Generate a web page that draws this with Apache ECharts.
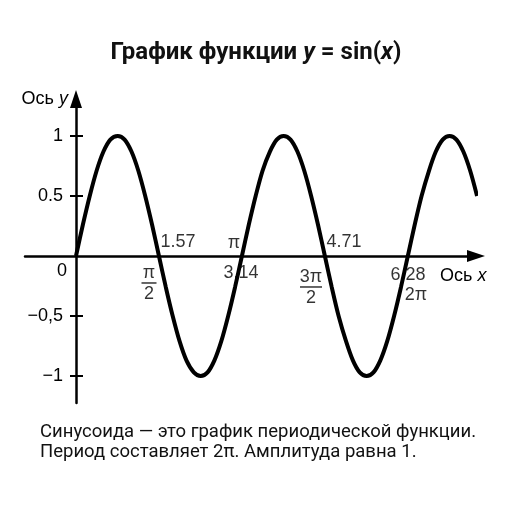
<!DOCTYPE html>
<html><head><meta charset="utf-8">
<script src="https://cdn.jsdelivr.net/npm/echarts@6/dist/echarts.min.js"></script>
<style>html,body{margin:0;padding:0;background:#fff}#c{width:512px;height:512px}</style>
</head><body><div id="c"></div>
<script>
// Curve samples (x in radians, y value)
const curveX = [0, 0.13, 0.26, 0.39, 0.52, 0.65, 0.79, 0.92, 1.05, 1.18, 1.31, 1.44, 1.57, 1.70, 1.83, 1.96, 2.09, 2.23, 2.36, 2.49, 2.62, 2.75, 2.88, 3.01, 3.14, 3.27, 3.40, 3.53, 3.67, 3.80, 3.93, 4.06, 4.19, 4.32, 4.45, 4.58, 4.71, 4.84, 4.97, 5.11, 5.24, 5.37, 5.50, 5.63, 5.76, 5.89, 6.02, 6.15, 6.28, 6.41, 6.54, 6.68, 6.81, 6.94, 7.07, 7.20, 7.33, 7.46, 7.59];
const curveY = [0, 0.26, 0.5, 0.71, 0.87, 0.97, 1, 0.97, 0.87, 0.71, 0.5, 0.26, 0, -0.26, -0.5, -0.71, -0.87, -0.97, -1, -0.97, -0.87, -0.71, -0.5, -0.26, 0, 0.26, 0.5, 0.71, 0.87, 0.97, 1, 0.97, 0.87, 0.71, 0.5, 0.26, 0, -0.26, -0.5, -0.71, -0.87, -0.97, -1, -0.97, -0.87, -0.71, -0.5, -0.26, 0, 0.26, 0.5, 0.71, 0.87, 0.97, 1, 0.97, 0.87, 0.71, 0.5];

const yTickValues = [-1, -0.5, 0, 0.5, 1];
const yTickLabels = ['−1', '−0,5', '0', '0.5', '1'];
const yTickMarks = [-1, -0.5, 0.5, 1];

const xTickValues = [1.5708, 3.1416, 4.7124, 6.2832];
const xDecimalLabels = ['1.57', '3.14', '4.71', '6.28'];
const xPiNumerators = ['π', 'π', '3π', '2π'];
const xPiDenominators = ['2', '', '2', ''];

const titleText = 'График функции {i|y} = sin({i|x})';
const captionLines = ['Синусоида — это график периодической функции.', 'Период составляет 2π. Амплитуда равна 1.'];

const AXF = 'Liberation Sans, Arial, sans-serif';
const FS = 18;
const chart = echarts.init(document.getElementById('c'), null, {renderer: 'canvas'});

// label placement (offsets from the zero crossing, in px)
const decOffsets = [[19, -14], [-1, 17], [19, -14], [0, 19]];
const piOffsets = [[-10, 28], [-8, -13], [-14, 32], [8, 39]];

const labelData = [];
xTickValues.forEach((v, i) => {
  labelData.push({value: [v, 0], label: {show: true, position: 'inside', offset: decOffsets[i], formatter: xDecimalLabels[i]}});
  const frac = xPiDenominators[i] !== '';
  labelData.push({value: [v, 0], label: {show: true, position: 'inside', offset: piOffsets[i],
    formatter: frac ? '{n|' + xPiNumerators[i] + '}\n{bar' + (xPiNumerators[i].length > 1 ? '2' : '1') + '|}\n{d|' + xPiDenominators[i] + '}' : '{s|' + xPiNumerators[i] + '}'}});
});

const txt = {fontFamily: AXF, fontSize: FS, color: '#000'};
const option = {
  animation: false,
  title: [
    {text: titleText, left: 'center', top: 36, textStyle: {fontFamily: 'Roboto', fontWeight: 'bold', fontSize: 24, color: '#111',
      rich: {i: {fontFamily: 'Roboto', fontWeight: 'bold', fontStyle: 'italic', fontSize: 24, color: '#111'}}}},
    {text: captionLines.join('\n'), left: 35, top: 417, textStyle: {fontFamily: 'Roboto', fontWeight: 'normal', fontSize: 18.5, lineHeight: 20, color: '#111'}}
  ],
  grid: {left: 25, right: 36, top: 99, bottom: 109, outerBoundsMode: 'none', containLabel: false},
  xAxis: {
    type: 'value', min: -0.965, max: 7.57,
    axisLine: {onZero: true, lineStyle: {color: '#000', width: 2.5}, symbol: ['none', 'triangle'], symbolSize: [12, 18]},
    axisTick: {show: false}, axisLabel: {show: false}, splitLine: {show: false},
    name: '{n|Ось }{i|x}', nameLocation: 'end', nameGap: -36,
    nameTextStyle: {align: 'left', verticalAlign: 'middle', padding: [40, 0, 0, 0],
      rich: {n: txt, i: Object.assign({}, txt, {fontStyle: 'italic'})}}
  },
  yAxis: [{
    type: 'value', min: -1.225, max: 1.308, position: 'left', offset: -51,
    axisLine: {onZero: false, lineStyle: {color: '#000', width: 2.5}, symbol: ['none', 'triangle'], symbolSize: [12, 18]},
    axisTick: {show: true, customValues: yTickMarks, length: 6, inside: false, lineStyle: {color: '#000', width: 2}},
    axisLabel: {customValues: yTickValues, margin: 9, fontFamily: AXF, fontSize: FS, color: '#000',
      formatter: (v) => {
        const i = yTickValues.indexOf(v);
        const t = i >= 0 ? yTickLabels[i] : '';
        return v === 0 ? '{z|' + t + '}' : '{v|' + t + '}';
      },
      rich: {v: Object.assign({}, txt, {padding: [0, 4, 0, 0]}),
             z: Object.assign({}, txt, {padding: [30, 0, 0, 0]})}},
    splitLine: {show: false},
    name: '{n|Ось }{i|y}', nameLocation: 'end', nameGap: -1,
    nameTextStyle: {align: 'right', verticalAlign: 'middle', padding: [0, 8, 2, 0],
      rich: {n: txt, i: Object.assign({}, txt, {fontStyle: 'italic'})}}
  }, {
    type: 'value', min: -1.225, max: 1.308, position: 'left', offset: -51,
    axisLine: {show: true, onZero: false, lineStyle: {color: 'rgba(0,0,0,0)', width: 0}},
    axisTick: {show: true, customValues: yTickMarks, length: 7, inside: true, lineStyle: {color: '#000', width: 2}},
    axisLabel: {show: false}, splitLine: {show: false}
  }],
  series: [{
    type: 'line', data: curveX.map((x, i) => [x, curveY[i]]), smooth: 0.3, showSymbol: false, clip: false,
    lineStyle: {color: '#000', width: 4}, z: 3
  }, {
    type: 'scatter', data: labelData, symbolSize: 1, itemStyle: {color: 'rgba(0,0,0,0)'}, z: 5, silent: true,
    label: {fontFamily: AXF, fontSize: FS, color: '#000', align: 'center', verticalAlign: 'middle',
      rich: {
        n: Object.assign({}, txt, {lineHeight: 15, align: 'center'}),
        d: Object.assign({}, txt, {lineHeight: 17, align: 'center'}),
        s: txt,
        bar1: {width: 15, height: 1.5, lineHeight: 5, backgroundColor: '#000', align: 'center'},
        bar2: {width: 22, height: 1.5, lineHeight: 5, backgroundColor: '#000', align: 'center'}
      }}
  }]
};
chart.setOption(option);
</script></body></html>
